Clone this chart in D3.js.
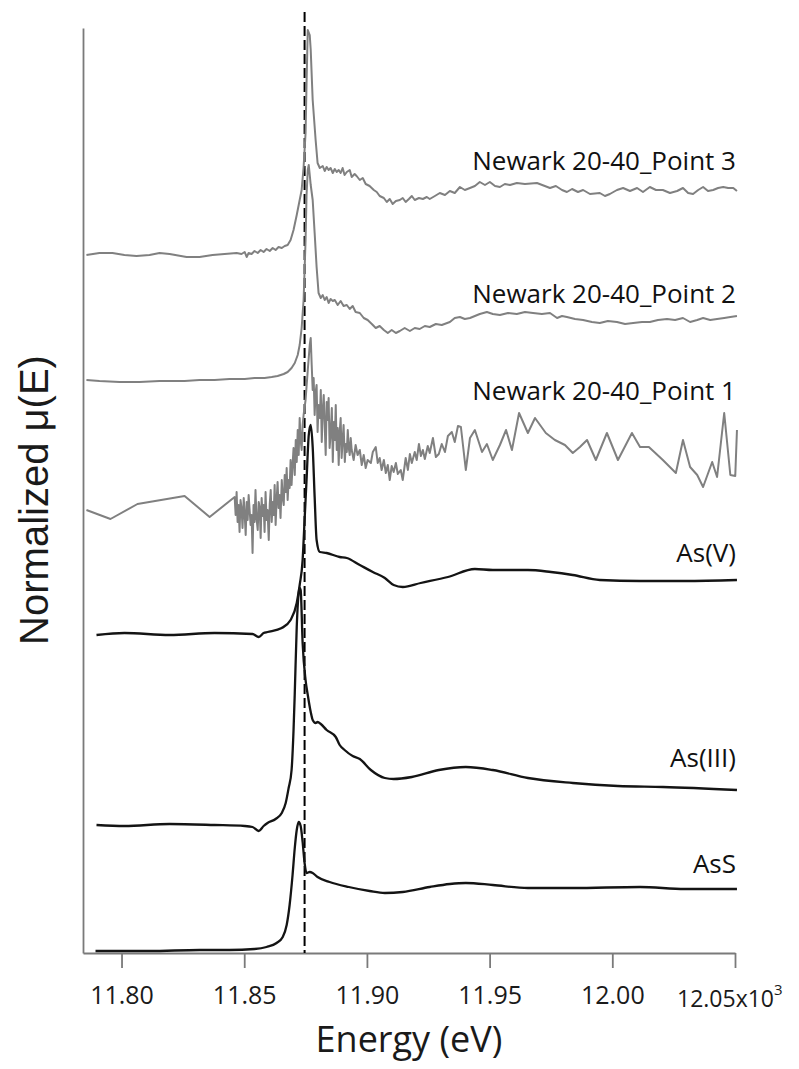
<!DOCTYPE html>
<html>
<head>
<meta charset="utf-8">
<script src="https://cdn.jsdelivr.net/npm/d3@7/dist/d3.min.js"></script>
<style>
  html, body { margin: 0; padding: 0; background: #fff; }
  svg { display: block; }
</style>
</head>
<body>
<svg id="chart" width="799" height="1069"></svg>
<script>
// ---------------- DATA ----------------
// Energy in keV (axis shows x10^3 eV); values are normalized mu(E) relative to pre-edge.
const xTicks = [11.80, 11.85, 11.90, 11.95, 12.00, 12.05];
const edgeEnergy = 11.8746;

const seriesNames = ["AsS", "As(III)", "As(V)", "Newark 20-40_Point 1", "Newark 20-40_Point 2", "Newark 20-40_Point 3"];
const seriesOffsets = [0.02, 1.28, 3.19, 4.43, 5.73, 6.98];

const asS = [
  [11.7894,0.00],[11.8114,0.00],[11.8318,0.01],[11.8440,0.01],[11.8542,0.02],[11.8591,0.04],
  [11.8632,0.08],[11.8657,0.14],[11.8673,0.26],[11.8685,0.46],[11.8697,0.76],[11.8706,1.03],
  [11.8714,1.21],[11.8722,1.29],[11.8730,1.25],[11.8738,1.09],[11.8746,0.88],[11.8754,0.78],
  [11.8767,0.79],[11.8779,0.78],[11.8799,0.74],[11.8848,0.69],[11.8926,0.64],[11.9011,0.60],
  [11.9073,0.58],[11.9146,0.59],[11.9256,0.64],[11.9338,0.67],[11.9403,0.68],[11.9513,0.66],
  [11.9656,0.63],[11.9839,0.63],[12.0113,0.64],[12.0296,0.62],[12.0508,0.62]
];

const asIII = [
  [11.7898,0.00],[11.8012,-0.01],[11.8196,0.01],[11.8379,0.00],[11.8502,-0.01],[11.8534,-0.02],
  [11.8559,-0.06],[11.8579,-0.01],[11.8595,0.02],[11.8628,0.06],[11.8653,0.12],[11.8669,0.22],
  [11.8681,0.37],[11.8693,0.55],[11.8701,0.95],[11.8706,1.32],[11.8714,1.98],[11.8722,2.32],
  [11.8726,2.37],[11.8730,2.35],[11.8738,1.82],[11.8750,1.45],[11.8759,1.30],[11.8771,1.13],
  [11.8779,1.05],[11.8791,1.02],[11.8799,1.03],[11.8812,1.01],[11.8836,0.95],[11.8873,0.88],
  [11.8889,0.80],[11.8909,0.75],[11.8942,0.69],[11.8971,0.66],[11.9016,0.55],[11.9073,0.47],
  [11.9109,0.46],[11.9183,0.48],[11.9293,0.55],[11.9403,0.58],[11.9513,0.55],[11.9656,0.47],
  [11.9839,0.42],[12.0023,0.39],[12.0206,0.38],[12.0508,0.35]
];

const asV = [
  [11.7898,-0.01],[11.8012,0.01],[11.8196,-0.01],[11.8379,0.01],[11.8534,0.00],[11.8559,-0.03],
  [11.8579,0.01],[11.8595,0.02],[11.8653,0.06],[11.8689,0.14],[11.8714,0.31],[11.8726,0.49],
  [11.8738,0.74],[11.8746,1.14],[11.8754,1.54],[11.8763,1.99],[11.8771,2.09],[11.8779,1.87],
  [11.8787,1.37],[11.8795,0.94],[11.8808,0.82],[11.8836,0.81],[11.8889,0.77],[11.8918,0.76],
  [11.8971,0.69],[11.9024,0.62],[11.9073,0.56],[11.9109,0.49],[11.9146,0.47],[11.9219,0.51],
  [11.9330,0.57],[11.9440,0.65],[11.9513,0.64],[11.9656,0.64],[11.9750,0.62],[11.9839,0.59],
  [11.9949,0.54],[12.0113,0.53],[12.0296,0.53],[12.0508,0.54]
];

const point1 = [
  [11.7857,0.00],[11.7955,-0.09],[11.8065,0.06],[11.8257,0.14],[11.8359,-0.07],[11.8461,0.13],
  [11.8465,-0.05],[11.8469,0.18],[11.8473,-0.12],[11.8477,0.05],[11.8481,-0.22],[11.8485,0.10],
  [11.8489,0.02],[11.8493,-0.18],[11.8498,0.12],[11.8502,-0.05],[11.8506,-0.25],[11.8510,0.08],
  [11.8514,-0.10],[11.8518,0.15],[11.8522,0.00],[11.8526,-0.15],[11.8530,-0.05],[11.8534,-0.43],
  [11.8538,0.05],[11.8542,-0.12],[11.8546,0.20],[11.8550,-0.08],[11.8555,-0.20],[11.8559,0.08],
  [11.8563,0.02],[11.8567,-0.28],[11.8571,0.12],[11.8575,-0.06],[11.8579,0.05],[11.8583,-0.22],
  [11.8587,0.18],[11.8591,-0.10],[11.8595,0.00],[11.8600,-0.30],[11.8604,0.06],[11.8608,0.20],
  [11.8612,-0.12],[11.8616,0.08],[11.8620,-0.05],[11.8624,0.25],[11.8628,-0.15],[11.8632,0.10],
  [11.8636,0.28],[11.8640,0.02],[11.8644,0.15],[11.8648,-0.08],[11.8653,0.30],[11.8657,0.12],
  [11.8661,0.05],[11.8665,0.35],[11.8669,0.18],[11.8673,0.42],[11.8677,0.10],[11.8681,0.30],
  [11.8685,0.22],[11.8689,0.50],[11.8693,0.25],[11.8697,0.45],[11.8701,0.62],[11.8706,0.35],
  [11.8710,0.70],[11.8714,0.48],[11.8718,0.80],[11.8722,0.55],[11.8726,0.92],[11.8730,0.70],
  [11.8734,0.60],[11.8738,0.85],[11.8742,0.95],[11.8750,1.10],[11.8759,1.40],[11.8767,1.65],
  [11.8771,1.72],[11.8775,1.45],[11.8779,1.20],[11.8783,1.32],[11.8787,0.95],[11.8791,1.18],
  [11.8795,1.25],[11.8799,0.78],[11.8803,1.05],[11.8808,0.92],[11.8812,1.20],[11.8816,0.68],
  [11.8820,1.00],[11.8824,1.15],[11.8828,0.85],[11.8832,0.55],[11.8836,1.08],[11.8840,0.90],
  [11.8844,1.12],[11.8848,0.62],[11.8852,0.75],[11.8857,1.02],[11.8861,0.48],[11.8865,0.88],
  [11.8869,0.70],[11.8873,1.05],[11.8877,0.60],[11.8881,0.82],[11.8885,0.45],[11.8889,0.78],
  [11.8893,0.92],[11.8897,0.52],[11.8901,0.70],[11.8905,0.85],[11.8910,0.48],[11.8914,0.66],
  [11.8918,0.58],[11.8922,0.80],[11.8926,0.62],[11.8930,0.55],[11.8934,0.72],[11.8938,0.60],
  [11.8946,0.50],[11.8954,0.65],[11.8962,0.55],[11.8971,0.60],[11.8979,0.45],[11.8987,0.55],
  [11.8995,0.42],[11.9003,0.50],[11.9016,0.47],[11.9024,0.58],[11.9036,0.63],[11.9044,0.47],
  [11.9052,0.52],[11.9060,0.40],[11.9069,0.50],[11.9077,0.37],[11.9085,0.45],[11.9093,0.30],
  [11.9101,0.44],[11.9109,0.38],[11.9118,0.47],[11.9126,0.36],[11.9138,0.40],[11.9146,0.30],
  [11.9158,0.52],[11.9167,0.40],[11.9175,0.56],[11.9183,0.47],[11.9195,0.58],[11.9203,0.50],
  [11.9212,0.66],[11.9220,0.54],[11.9228,0.60],[11.9236,0.51],[11.9248,0.64],[11.9256,0.57],
  [11.9269,0.72],[11.9281,0.53],[11.9293,0.56],[11.9305,0.66],[11.9318,0.58],[11.9330,0.74],
  [11.9346,0.78],[11.9358,0.68],[11.9371,0.84],[11.9383,0.83],[11.9403,0.40],[11.9420,0.72],
  [11.9440,0.80],[11.9469,0.58],[11.9489,0.66],[11.9513,0.50],[11.9542,0.65],[11.9567,0.80],
  [11.9591,0.60],[11.9620,0.97],[11.9656,0.77],[11.9685,0.92],[11.9729,0.77],[11.9766,0.70],
  [11.9807,0.65],[11.9839,0.57],[11.9868,0.63],[11.9897,0.70],[11.9933,0.50],[11.9978,0.77],
  [12.0023,0.50],[12.0080,0.77],[12.0113,0.63],[12.0149,0.63],[12.0206,0.50],[12.0259,0.37],
  [12.0288,0.70],[12.0317,0.43],[12.0346,0.35],[12.0370,0.23],[12.0407,0.48],[12.0427,0.33],
  [12.0456,0.97],[12.0481,0.35],[12.0501,0.34],[12.0508,0.80]
];

const point2 = [
  [11.7857,0.00],[11.7910,-0.01],[11.7992,-0.02],[11.8073,-0.02],[11.8155,-0.01],[11.8257,-0.01],
  [11.8318,0.00],[11.8379,0.00],[11.8440,0.01],[11.8502,0.01],[11.8542,0.02],[11.8583,0.02],
  [11.8612,0.03],[11.8636,0.04],[11.8661,0.06],[11.8677,0.08],[11.8693,0.12],[11.8706,0.17],
  [11.8718,0.25],[11.8726,0.35],[11.8734,0.52],[11.8742,0.80],[11.8750,1.40],[11.8754,1.85],
  [11.8759,2.10],[11.8763,2.15],[11.8767,2.05],[11.8771,1.95],[11.8779,1.80],[11.8787,1.47],
  [11.8795,1.13],[11.8803,0.87],[11.8812,0.82],[11.8820,0.85],[11.8828,0.80],[11.8836,0.83],
  [11.8844,0.77],[11.8852,0.81],[11.8861,0.79],[11.8869,0.80],[11.8881,0.75],[11.8893,0.79],
  [11.8905,0.74],[11.8918,0.75],[11.8930,0.71],[11.8942,0.74],[11.8954,0.68],[11.8971,0.67],
  [11.8987,0.62],[11.9003,0.60],[11.9020,0.56],[11.9036,0.52],[11.9052,0.54],[11.9069,0.50],
  [11.9085,0.47],[11.9101,0.50],[11.9118,0.47],[11.9134,0.49],[11.9154,0.52],[11.9175,0.49],
  [11.9195,0.52],[11.9215,0.51],[11.9236,0.54],[11.9256,0.53],[11.9281,0.56],[11.9305,0.55],
  [11.9338,0.58],[11.9358,0.62],[11.9379,0.63],[11.9399,0.61],[11.9420,0.62],[11.9440,0.64],
  [11.9460,0.66],[11.9489,0.68],[11.9513,0.66],[11.9542,0.65],[11.9575,0.67],[11.9611,0.66],
  [11.9644,0.68],[11.9677,0.67],[11.9713,0.66],[11.9746,0.67],[11.9775,0.62],[11.9795,0.64],
  [11.9815,0.63],[11.9848,0.61],[11.9881,0.60],[11.9917,0.58],[11.9949,0.57],[11.9982,0.59],
  [12.0019,0.58],[12.0052,0.56],[12.0085,0.57],[12.0121,0.58],[12.0153,0.58],[12.0186,0.60],
  [12.0223,0.61],[12.0256,0.60],[12.0288,0.62],[12.0317,0.58],[12.0346,0.60],[12.0370,0.62],
  [12.0399,0.60],[12.0427,0.61],[12.0456,0.62],[12.0481,0.63],[12.0508,0.64]
];

const point3 = [
  [11.7857,0.00],[11.7910,0.02],[11.7963,0.02],[11.8012,0.00],[11.8061,-0.01],[11.8114,0.00],
  [11.8155,0.02],[11.8196,0.01],[11.8265,-0.02],[11.8318,-0.02],[11.8371,0.00],[11.8420,0.01],
  [11.8469,0.02],[11.8489,0.01],[11.8502,0.03],[11.8510,-0.02],[11.8518,0.02],[11.8530,0.01],
  [11.8542,0.04],[11.8555,0.02],[11.8567,0.05],[11.8579,0.03],[11.8591,0.06],[11.8604,0.04],
  [11.8616,0.07],[11.8628,0.05],[11.8640,0.08],[11.8653,0.07],[11.8665,0.09],[11.8677,0.10],
  [11.8689,0.15],[11.8701,0.25],[11.8714,0.40],[11.8726,0.55],[11.8734,0.65],[11.8742,0.88],
  [11.8750,1.22],[11.8754,1.72],[11.8759,2.25],[11.8767,2.20],[11.8771,2.05],[11.8779,1.55],
  [11.8791,1.15],[11.8799,0.92],[11.8808,0.87],[11.8820,0.89],[11.8828,0.84],[11.8836,0.88],
  [11.8844,0.85],[11.8852,0.87],[11.8861,0.82],[11.8869,0.86],[11.8877,0.83],[11.8885,0.85],
  [11.8893,0.82],[11.8901,0.87],[11.8909,0.80],[11.8918,0.83],[11.8930,0.85],[11.8938,0.78],
  [11.8950,0.81],[11.8958,0.79],[11.8971,0.75],[11.8983,0.77],[11.8995,0.71],[11.9011,0.69],
  [11.9028,0.65],[11.9040,0.63],[11.9052,0.59],[11.9069,0.57],[11.9081,0.53],[11.9093,0.56],
  [11.9105,0.51],[11.9118,0.54],[11.9134,0.55],[11.9146,0.57],[11.9158,0.53],[11.9171,0.56],
  [11.9183,0.59],[11.9195,0.55],[11.9212,0.57],[11.9228,0.56],[11.9244,0.58],[11.9256,0.56],
  [11.9277,0.59],[11.9297,0.62],[11.9318,0.60],[11.9338,0.64],[11.9358,0.62],[11.9379,0.68],
  [11.9399,0.65],[11.9420,0.67],[11.9440,0.69],[11.9460,0.73],[11.9481,0.70],[11.9501,0.73],
  [11.9522,0.69],[11.9542,0.68],[11.9562,0.71],[11.9583,0.70],[11.9611,0.72],[11.9644,0.71],
  [11.9693,0.72],[11.9725,0.69],[11.9746,0.67],[11.9770,0.69],[11.9795,0.65],[11.9815,0.63],
  [11.9836,0.66],[11.9860,0.63],[11.9881,0.65],[11.9909,0.61],[11.9949,0.62],[11.9970,0.59],
  [11.9990,0.61],[12.0019,0.65],[12.0044,0.67],[12.0072,0.64],[12.0101,0.67],[12.0125,0.63],
  [12.0153,0.68],[12.0178,0.65],[12.0206,0.65],[12.0235,0.62],[12.0264,0.64],[12.0288,0.67],
  [12.0309,0.62],[12.0329,0.61],[12.0350,0.65],[12.0370,0.68],[12.0390,0.64],[12.0411,0.65],
  [12.0431,0.67],[12.0452,0.68],[12.0472,0.67],[12.0493,0.67],[12.0508,0.64]
];

const seriesData = [asS, asIII, asV, point1, point2, point3];

// ---------------- LAYOUT / STYLE ----------------
const svg = d3.select("#chart");
const plot = { left: 83, right: 735, top: 28, bottom: 953 };
const xDomain = [11.7843, 12.05];
const yDomain = [0, 9.25];

const x = d3.scaleLinear().domain(xDomain).range([plot.left, plot.right]);
const y = d3.scaleLinear().domain(yDomain).range([plot.bottom, plot.top]);

const styles = [
  { color: "#141414", width: 2.3, curve: d3.curveMonotoneX },
  { color: "#141414", width: 2.3, curve: d3.curveMonotoneX },
  { color: "#141414", width: 2.3, curve: d3.curveMonotoneX },
  { color: "#808080", width: 2.0, curve: d3.curveLinear },
  { color: "#808080", width: 2.0, curve: d3.curveLinear },
  { color: "#808080", width: 2.0, curve: d3.curveLinear }
];
const labelBaselines = [873, 767, 562, 400, 303, 170];
const labelRight = 736;
const axisColor = "#7a7a7a";
const font = "'Open Sans', 'Noto Sans', sans-serif";

// ---------------- AXES ----------------
const xAxis = d3.axisBottom(x)
  .tickValues(xTicks)
  .tickSize(15)
  .tickSizeOuter(0)
  .tickPadding(18)
  .tickFormat(d => d === 12.05 ? "" : d3.format(".2f")(d));

const gx = svg.append("g")
  .attr("transform", `translate(0,${plot.bottom})`)
  .call(xAxis);
gx.select(".domain").attr("stroke", axisColor).attr("stroke-width", 1.8);
gx.selectAll(".tick line").attr("stroke", axisColor).attr("stroke-width", 1.8);
gx.selectAll(".tick text")
  .attr("fill", "#1a1a1a")
  .style("font-family", font)
  .style("font-size", "25px");

// last tick label with exponent
const lastLab = svg.append("text")
  .attr("x", x(12.05) - 58)
  .attr("y", 1007)
  .attr("fill", "#1a1a1a")
  .style("font-family", font)
  .style("font-size", "23px");
lastLab.append("tspan").text("12.05x10");
lastLab.append("tspan").attr("dy", -12).style("font-size", "15px").text("3");

const yAxis = d3.axisLeft(y).tickValues([]).tickSizeOuter(0);
const gy = svg.append("g")
  .attr("transform", `translate(${plot.left},0)`)
  .call(yAxis);
gy.select(".domain").attr("stroke", axisColor).attr("stroke-width", 1.8);

// ---------------- DASHED EDGE LINE ----------------
svg.append("line")
  .attr("x1", x(edgeEnergy)).attr("x2", x(edgeEnergy))
  .attr("y1", 12).attr("y2", plot.bottom)
  .attr("stroke", "#000")
  .attr("stroke-width", 2)
  .attr("stroke-dasharray", "10,4");

// ---------------- SPECTRA ----------------
seriesData.forEach((data, i) => {
  const off = seriesOffsets[i];
  const line = d3.line()
    .x(d => x(d[0]))
    .y(d => y(d[1] + off))
    .curve(styles[i].curve);
  svg.append("path")
    .datum(data)
    .attr("d", line)
    .attr("fill", "none")
    .attr("stroke", styles[i].color)
    .attr("stroke-width", styles[i].width)
    .attr("stroke-linejoin", "round");

  svg.append("text")
    .attr("x", labelRight)
    .attr("y", labelBaselines[i])
    .attr("text-anchor", "end")
    .attr("fill", "#111")
    .style("font-family", font)
    .style("font-size", "26px")
    .text(seriesNames[i]);
});

// ---------------- AXIS TITLES ----------------
svg.append("text")
  .attr("x", (plot.left + plot.right) / 2)
  .attr("y", 1052)
  .attr("text-anchor", "middle")
  .attr("fill", "#1a1a1a")
  .style("font-family", font)
  .style("font-size", "36px")
  .text("Energy (eV)");

svg.append("text")
  .attr("transform", "translate(48,500) rotate(-90)")
  .attr("text-anchor", "middle")
  .attr("fill", "#1a1a1a")
  .style("font-family", "'Liberation Sans', Arial, sans-serif")
  .style("font-size", "40px")
  .text("Normalized μ(E)");
</script>
</body>
</html>
